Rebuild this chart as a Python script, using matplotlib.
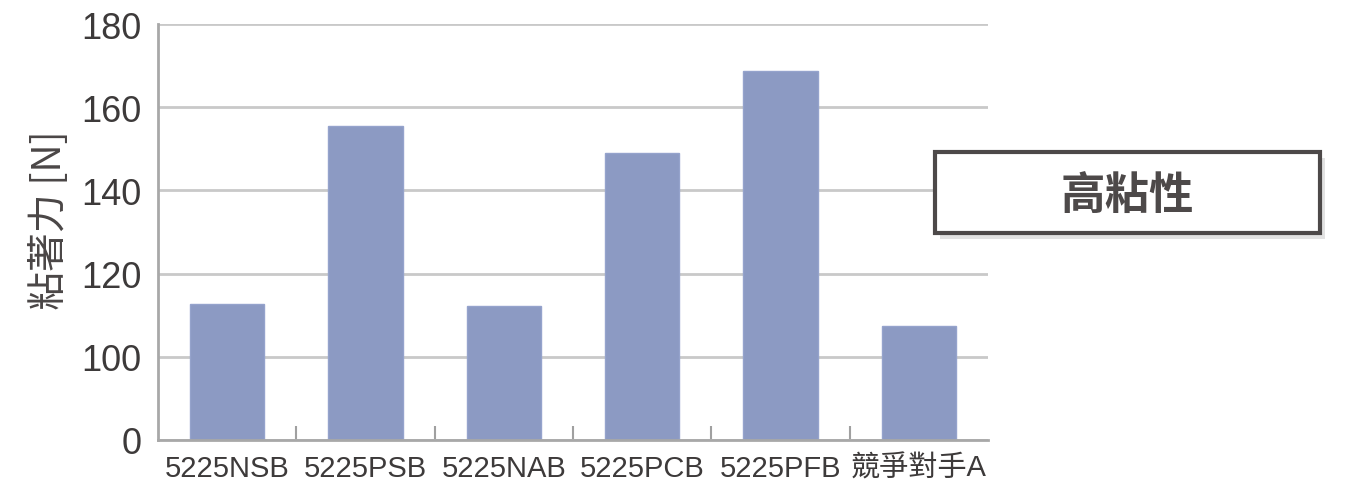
import matplotlib
matplotlib.use('Agg')
import matplotlib.pyplot as plt
from matplotlib.patches import Rectangle

# データ
categories = ['5225NSB', '5225PSB', '5225NAB', '5225PCB', '5225PFB', '競爭對手A']
values = [112.7, 155.6, 112.1, 149.0, 168.6, 107.3]
tick_vals = [80, 100, 120, 140, 160, 180]
tick_labels = ['0', '100', '120', '140', '160', '180']
ylabel = '粘著力 [N]'
badge = '高粘性'

fam = ['Liberation Sans', 'Noto Sans CJK TC', 'DejaVu Sans']
cjk = ['Noto Sans CJK TC', 'DejaVu Sans']
txt_col = '#3d3a3a'
grid_col = '#c9c9c9'
bar_col = '#8c9ac3'

fig = plt.figure(figsize=(13.6, 5.02), dpi=100)
ax = fig.add_axes([158/1360, 1-441/502, 830/1360, 416/502])

x = list(range(len(categories)))
ax.bar(x, values, width=0.535, color=bar_col, edgecolor='#95a3cc', linewidth=1,
       bottom=0, zorder=3)
ax.set_xlim(-0.5, len(categories)-0.5)
ax.set_ylim(80, 180)

# 軸は 80 を "0" として表示（省略目盛）
ax.set_yticks(tick_vals)
ax.set_yticklabels(tick_labels, family=fam, fontsize=26, color=txt_col)
ax.yaxis.grid(True, color=grid_col, linewidth=2, zorder=0)
ax.tick_params(axis='y', length=0, pad=12)

ax.set_xticks([i + 0.5 for i in range(len(categories)-1)], minor=True)
ax.set_xticks(x)
ax.set_xticklabels(categories, family=fam, fontsize=21, color=txt_col)
ax.tick_params(axis='x', which='major', length=0, pad=10)
ax.tick_params(axis='x', which='minor', direction='in', length=10, width=1.5, color='#a0a0a0')

for s in ['top', 'right']:
    ax.spines[s].set_visible(False)
for s in ['left', 'bottom']:
    ax.spines[s].set_color('#a8a8a8')
    ax.spines[s].set_linewidth(2)
    ax.spines[s].set_zorder(4)

fig.text(50/1360, 1-220/502, ylabel, rotation=90, ha='center', va='center',
         family=cjk, fontsize=28, fontweight='medium', color='#4a4646')

# 右側のラベル枠
bx, by, bw, bh = 935/1360, 1-234/502, 385/1360, 81/502
shadow = Rectangle((bx+5/1360, by-6/502), bw, bh, transform=fig.transFigure,
                   facecolor='#e2e2e2', edgecolor='none', zorder=1)
fig.patches.append(shadow)
box = Rectangle((bx, by), bw, bh, transform=fig.transFigure,
                facecolor='white', edgecolor='#4d4949', linewidth=3, zorder=2)
fig.patches.append(box)
fig.text(bx + bw/2, by + bh/2 - 3/502, badge, ha='center', va='center',
         family=cjk, fontsize=32, fontweight='bold', color='#4d4949')

fig.savefig('out.png', dpi=100)
